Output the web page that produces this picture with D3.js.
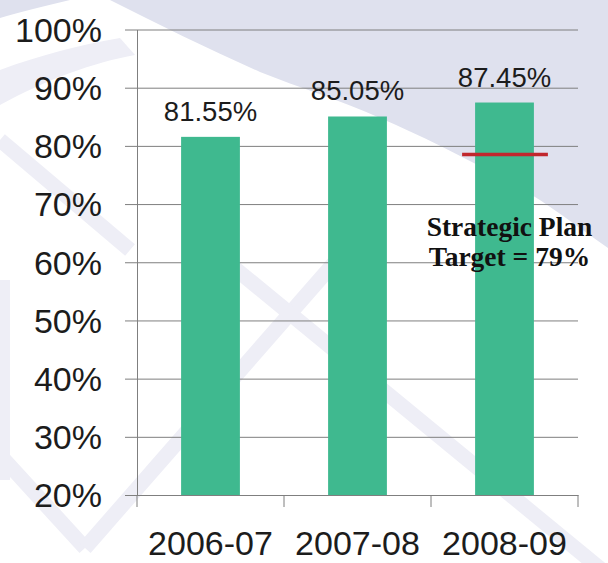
<!DOCTYPE html>
<html>
<head>
<meta charset="utf-8">
<script src="https://cdn.jsdelivr.net/npm/d3@7"></script>
<style>
  html, body { margin: 0; padding: 0; background: #ffffff; }
  svg { display: block; }
</style>
</head>
<body>
<script>
// ---------- data ----------
const categories = ["2006-07", "2007-08", "2008-09"];
const values = [0.8155, 0.8505, 0.8745];
const valueLabels = ["81.55%", "85.05%", "87.45%"];
const yTicks = [0.2, 0.3, 0.4, 0.5, 0.6, 0.7, 0.8, 0.9, 1.0];
const yTickLabels = ["20%", "30%", "40%", "50%", "60%", "70%", "80%", "90%", "100%"];
const targetValue = 0.785;
const targetCategory = "2008-09";
const targetText = ["Strategic Plan", "Target = 79%"];

// ---------- layout ----------
const W = 608, H = 563;
const plot = { left: 137, right: 578, top: 29.5, bottom: 495 };

const svg = d3.select("body").append("svg")
  .attr("width", W).attr("height", H);

// ---------- background watermark ----------
const bg = svg.append("g").attr("class", "watermark");
bg.append("rect").attr("width", W).attr("height", H).attr("fill", "#ffffff");
const lav = "#dfe1ee";
const lavLight = "#eeeef6";
// big upper-right lavender area
bg.append("path").attr("fill", lav)
  .attr("d", "M110,0 L608,0 L608,248 C575,225 550,205 520,188 C470,160 420,135 380,118 C340,100 300,88 260,72 C210,50 160,25 110,0 Z");
// top-left corner
bg.append("path").attr("fill", lav)
  .attr("d", "M0,0 L70,0 C45,6 20,12 0,18 Z");
// left diagonal band below the white swoosh
bg.append("path").attr("fill", lavLight)
  .attr("d", "M0,70 C40,55 80,45 120,38 L135,55 C95,62 45,80 0,105 Z");
// stripes
const stripes = [
  [[0, 455], [85, 548]],
  [[85, 548], [335, 262]],
  [[232, 266], [608, 575]],
  [[0, 140], [130, 250]]
];
stripes.forEach(s => {
  bg.append("line")
    .attr("x1", s[0][0]).attr("y1", s[0][1])
    .attr("x2", s[1][0]).attr("y2", s[1][1])
    .attr("stroke", lavLight).attr("stroke-width", 15)
    .attr("stroke-linecap", "butt");
});
bg.append("rect").attr("x", 0).attr("y", 280).attr("width", 10).attr("height", 200).attr("fill", lavLight);

// ---------- scales ----------
const x = d3.scaleBand()
  .domain(categories)
  .range([plot.left, plot.right])
  .paddingInner(0.6)
  .paddingOuter(0.3);

const y = d3.scaleLinear()
  .domain([0.2, 1.0])
  .range([plot.bottom, plot.top]);

const gridColor = "#7f7f7f";
const textColor = "#1c1c1c";

// ---------- gridlines (with left tick stubs) ----------
const gridAxis = d3.axisLeft(y)
  .tickValues(yTicks)
  .tickSize(-(plot.right - plot.left + 12))
  .tickFormat("");
const gGrid = svg.append("g")
  .attr("transform", `translate(${plot.left - 12},0)`)
  .call(gridAxis);
gGrid.select(".domain").remove();
gGrid.selectAll(".tick line").attr("stroke", gridColor).attr("stroke-width", 1);

// ---------- y axis line + labels ----------
const yAxis = d3.axisLeft(y)
  .tickValues(yTicks)
  .tickSize(0)
  .tickPadding(35)
  .tickFormat((d, i) => yTickLabels[i]);
const gY = svg.append("g")
  .attr("transform", `translate(${plot.left},0)`)
  .call(yAxis);
gY.select(".domain").attr("stroke", gridColor).attr("stroke-width", 1);
gY.selectAll("text")
  .attr("font-family", "'Liberation Sans', Arial, sans-serif")
  .attr("font-size", 34)
  .attr("fill", textColor)
  .attr("dy", "0.35em");

// ---------- x axis ----------
const xAxis = d3.axisBottom(x).tickSize(0).tickPadding(0);
const gX = svg.append("g")
  .attr("transform", `translate(0,${plot.bottom})`)
  .call(xAxis);
gX.select(".domain").attr("stroke", gridColor).attr("stroke-width", 1);
gX.selectAll("text")
  .attr("font-family", "'Liberation Sans', Arial, sans-serif")
  .attr("font-size", 34)
  .attr("fill", textColor)
  .attr("y", 60)
  .attr("dy", null);
// category boundary ticks
const boundaries = d3.range(categories.length + 1).map(i => plot.left + i * x.step());
gX.selectAll(".bound").data(boundaries).join("line")
  .attr("class", "bound")
  .attr("x1", d => d).attr("x2", d => d)
  .attr("y1", 0).attr("y2", 12)
  .attr("stroke", gridColor).attr("stroke-width", 1);

// ---------- bars ----------
const barColor = "#3fb98f";
svg.append("g").selectAll("rect").data(values).join("rect")
  .attr("x", (d, i) => x(categories[i]))
  .attr("y", d => y(d))
  .attr("width", x.bandwidth())
  .attr("height", d => y(0.2) - y(d))
  .attr("fill", barColor);

// ---------- value labels ----------
svg.append("g").selectAll("text").data(values).join("text")
  .attr("x", (d, i) => x(categories[i]) + x.bandwidth() / 2)
  .attr("y", d => y(d) - 16)
  .attr("text-anchor", "middle")
  .attr("font-family", "'Liberation Sans', Arial, sans-serif")
  .attr("font-size", 27.5)
  .attr("fill", textColor)
  .text((d, i) => valueLabels[i]);

// ---------- target line ----------
const tx = x(targetCategory);
svg.append("line")
  .attr("x1", tx - 13).attr("x2", tx + x.bandwidth() + 14)
  .attr("y1", y(targetValue)).attr("y2", y(targetValue))
  .attr("stroke", "#c1272d").attr("stroke-width", 3.5);

// ---------- target annotation ----------
const ann = svg.append("text")
  .attr("text-anchor", "middle")
  .attr("font-family", "'Liberation Serif', 'Times New Roman', serif")
  .attr("font-weight", "bold")
  .attr("font-size", 27.5)
  .attr("fill", "#111111");
ann.selectAll("tspan").data(targetText).join("tspan")
  .attr("x", tx + x.bandwidth() / 2 + 5)
  .attr("y", (d, i) => y(0.7) + 31.5 + i * 30.5)
  .text(d => d);
</script>
</body>
</html>
